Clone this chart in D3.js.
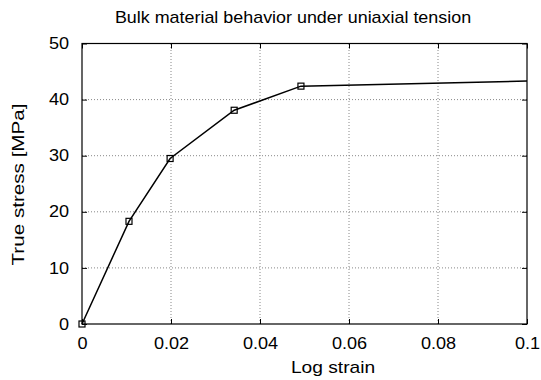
<!DOCTYPE html>
<html>
<head>
<meta charset="utf-8">
<script src="https://cdn.jsdelivr.net/npm/d3@7"></script>
<style>
  body { margin: 0; background: #fff; }
  text { font-family: "Liberation Sans", Arial, sans-serif; fill: #000; }
</style>
</head>
<body>
<div id="chart"></div>
<script>
const strain = [0, 0.01056, 0.0198, 0.0342, 0.0492, 0.1];
const stress = [0, 18.3, 29.5, 38.1, 42.4, 43.3];
const markerIdx = [0, 1, 2, 3, 4];
const xTicks = [0, 0.02, 0.04, 0.06, 0.08, 0.1];
const yTicks = [0, 10, 20, 30, 40, 50];

const width = 541, height = 380;
const margin = { top: 43.5, right: 14, bottom: 56, left: 82 };
const sx = 1.13; // text looks a bit stretched horizontally in the original

const svg = d3.select('#chart').append('svg')
  .attr('width', width)
  .attr('height', height);

const x = d3.scaleLinear().domain([0, 0.1]).range([margin.left, width - margin.right]);
const y = d3.scaleLinear().domain([0, 50]).range([height - margin.bottom, margin.top]);

// grid
const grid = svg.append('g').attr('stroke', '#888').attr('stroke-dasharray', '1,2').attr('stroke-width', 1);
xTicks.slice(1, -1).forEach(t => {
  grid.append('line').attr('x1', x(t)).attr('x2', x(t)).attr('y1', y(0)).attr('y2', y(50));
});
yTicks.slice(1, -1).forEach(t => {
  grid.append('line').attr('x1', x(0)).attr('x2', x(0.1)).attr('y1', y(t)).attr('y2', y(t));
});

// frame
svg.append('rect')
  .attr('x', x(0)).attr('y', y(50))
  .attr('width', x(0.1) - x(0)).attr('height', y(0) - y(50))
  .attr('fill', 'none').attr('stroke', '#000').attr('stroke-width', 1.2);

// axes (ticks inward)
const fmt = d => d === 0 ? '0' : String(d);
svg.append('g')
  .attr('transform', `translate(0,${y(0)})`)
  .call(d3.axisBottom(x).tickValues(xTicks).tickFormat(fmt).tickSizeInner(-5).tickSizeOuter(0).tickPadding(14))
  .call(g => g.select('.domain').remove())
  .call(g => g.selectAll('text').attr('font-size', 16).attr('transform', `scale(${sx},1)`));
svg.append('g')
  .attr('transform', `translate(0,${y(50)})`)
  .call(d3.axisTop(x).tickValues(xTicks).tickFormat('').tickSizeInner(-5).tickSizeOuter(0))
  .call(g => g.select('.domain').remove());
svg.append('g')
  .attr('transform', `translate(${x(0)},0)`)
  .call(d3.axisLeft(y).tickValues(yTicks).tickSizeInner(-5).tickSizeOuter(0).tickPadding(11.5))
  .call(g => g.select('.domain').remove())
  .call(g => g.selectAll('text').attr('font-size', 16).attr('transform', `scale(${sx},1)`));
svg.append('g')
  .attr('transform', `translate(${x(0.1)},0)`)
  .call(d3.axisRight(y).tickValues(yTicks).tickFormat('').tickSizeInner(-5).tickSizeOuter(0))
  .call(g => g.select('.domain').remove());

// curve
const line = d3.line().x((d, i) => x(strain[i])).y((d, i) => y(stress[i]));
svg.append('path')
  .datum(stress)
  .attr('d', line)
  .attr('fill', 'none')
  .attr('stroke', '#000')
  .attr('stroke-width', 1.5);

// markers
svg.append('g').selectAll('rect')
  .data(markerIdx)
  .join('rect')
  .attr('x', i => x(strain[i]) - 3)
  .attr('y', i => y(stress[i]) - 3)
  .attr('width', 6).attr('height', 6)
  .attr('fill', 'none')
  .attr('stroke', '#000')
  .attr('stroke-width', 1.2);

// labels
svg.append('text')
  .attr('transform', `translate(293,23) scale(1.12,1)`)
  .attr('text-anchor', 'middle')
  .attr('font-size', 16)
  .text('Bulk material behavior under uniaxial tension');
svg.append('text')
  .attr('transform', `translate(333,373) scale(1.2,1)`)
  .attr('text-anchor', 'middle')
  .attr('font-size', 16)
  .text('Log strain');
svg.append('text')
  .attr('transform', `translate(24,184.5) rotate(-90) scale(1.29,1)`)
  .attr('text-anchor', 'middle')
  .attr('font-size', 16)
  .text('True stress [MPa]');
</script>
</body>
</html>
